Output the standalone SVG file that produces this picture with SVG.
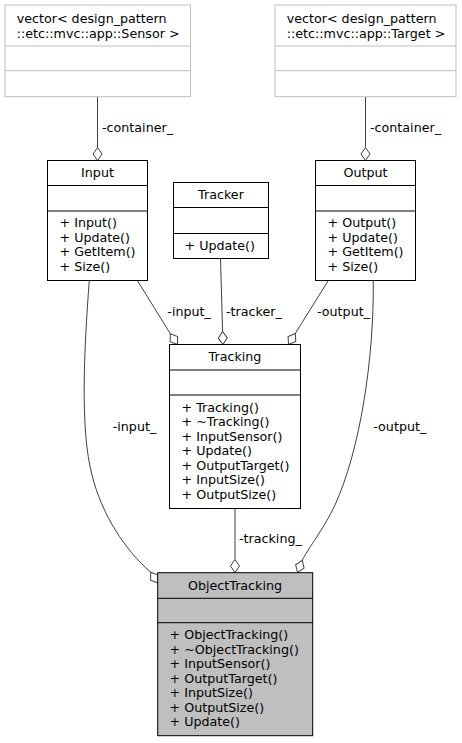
<svg xmlns="http://www.w3.org/2000/svg" xmlns:xlink="http://www.w3.org/1999/xlink" width="462" height="743" viewBox="0 0 462 743">
<style>
text{font-family:"DejaVu Sans","Liberation Sans",sans-serif;font-size:12.7px;fill:#000}
.t{text-anchor:middle}
.box{fill:#fff;stroke:#000;stroke-width:1}
.ext{fill:#fff;stroke:#bfbfbf;stroke-width:1}
.sep{stroke:#000;stroke-width:1}
.sepx{stroke:#bfbfbf;stroke-width:1}
.edge{fill:none;stroke:#404040;stroke-width:1}
.dia{fill:#fff;stroke:#404040;stroke-width:1}
</style>
<defs>
<polygon id="dia" class="dia" points="0,0 -4.5,-6.5 0,-13 4.5,-6.5"/>
</defs>
<rect width="462" height="743" fill="#fff"/>
<g id="connectors">
<path class="edge" d="M97.5,96.7 L97.5,147.5"/>
<use href="#dia" transform="translate(97.5,160.5)"/>
<text x="102" y="131.5">-container_</text>
<path class="edge" d="M365.5,96.7 L365.5,147.5"/>
<use href="#dia" transform="translate(365.5,160.5)"/>
<text x="370" y="131.5">-container_</text>
<path class="edge" d="M137.3,280.5 L170.3,333.7"/>
<use href="#dia" transform="translate(177.5,344.5) rotate(-33.8)"/>
<text x="167.3" y="315.5">-input_</text>
<path class="edge" d="M220.5,258.5 L222.6,331.5"/>
<use href="#dia" transform="translate(223,344.5) rotate(-2)"/>
<text x="226" y="315.5">-tracker_</text>
<path class="edge" d="M328.3,280.5 L295.3,333.4"/>
<use href="#dia" transform="translate(288.5,344.5) rotate(31.7)"/>
<text x="317" y="315.5">-output_</text>
<path class="edge" d="M89.3,280.5 C84,350 80,430 92,475 C102,515 125,550 150.7,572.2"/>
<use href="#dia" transform="translate(158,583) rotate(-34.2)"/>
<text x="112.7" y="430.5">-input_</text>
<path class="edge" d="M373.3,280.5 C374,360 360,450 335,505 C322,532 310,545 302.2,560.4"/>
<use href="#dia" transform="translate(297.5,572.5) rotate(21.4)"/>
<text x="373.3" y="430.5">-output_</text>
<path class="edge" d="M235,508.5 L235,559.5"/>
<use href="#dia" transform="translate(235,572.5)"/>
<text x="239" y="543">-tracking_</text>
</g>
<g id="vecSensor">
<rect class="ext" x="5" y="5" width="185.5" height="91.7"/>
<line class="sepx" x1="5" y1="46" x2="190.5" y2="46"/>
<line class="sepx" x1="5" y1="70.7" x2="190.5" y2="70.7"/>
<text x="16.7" y="23">vector&lt; design_pattern</text>
<text x="16.7" y="37.5">::etc::mvc::app::Sensor &gt;</text>
</g>
<g id="vecTarget">
<rect class="ext" x="275" y="5" width="181" height="91.7"/>
<line class="sepx" x1="275" y1="46" x2="456" y2="46"/>
<line class="sepx" x1="275" y1="70.7" x2="456" y2="70.7"/>
<text x="286.7" y="23">vector&lt; design_pattern</text>
<text x="286.7" y="37.5">::etc::mvc::app::Target &gt;</text>
</g>
<g id="Input">
<rect class="box" x="47.5" y="160.5" width="100" height="120"/>
<line class="sep" x1="47.5" y1="185.5" x2="147.5" y2="185.5"/>
<line class="sep" x1="47.5" y1="211" x2="147.5" y2="211"/>
<text class="t" x="97.5" y="177.3">Input</text>
<text x="59.5" y="227.3">+ Input()</text>
<text x="59.5" y="241.8">+ Update()</text>
<text x="59.5" y="256.3">+ GetItem()</text>
<text x="59.5" y="270.8">+ Size()</text>
</g>
<g id="Tracker">
<rect class="box" x="173.5" y="182.5" width="95" height="76"/>
<line class="sep" x1="173.5" y1="207.5" x2="268.5" y2="207.5"/>
<line class="sep" x1="173.5" y1="233.5" x2="268.5" y2="233.5"/>
<text class="t" x="221" y="199.3">Tracker</text>
<text x="184.5" y="249.8">+ Update()</text>
</g>
<g id="Output">
<rect class="box" x="315.5" y="160.5" width="100" height="120"/>
<line class="sep" x1="315.5" y1="185.5" x2="415.5" y2="185.5"/>
<line class="sep" x1="315.5" y1="211" x2="415.5" y2="211"/>
<text class="t" x="365.5" y="177.3">Output</text>
<text x="327.5" y="227.3">+ Output()</text>
<text x="327.5" y="241.8">+ Update()</text>
<text x="327.5" y="256.3">+ GetItem()</text>
<text x="327.5" y="270.8">+ Size()</text>
</g>
<g id="Tracking">
<rect class="box" x="169.5" y="344.5" width="131" height="164"/>
<line class="sep" x1="169.5" y1="370" x2="300.5" y2="370"/>
<line class="sep" x1="169.5" y1="395" x2="300.5" y2="395"/>
<text class="t" x="235" y="361.3">Tracking</text>
<text x="181.5" y="411.5">+ Tracking()</text>
<text x="181.5" y="426">+ ~Tracking()</text>
<text x="181.5" y="440.5">+ InputSensor()</text>
<text x="181.5" y="455">+ Update()</text>
<text x="181.5" y="469.5">+ OutputTarget()</text>
<text x="181.5" y="484">+ InputSize()</text>
<text x="181.5" y="498.5">+ OutputSize()</text>
</g>
<g id="ObjectTracking">
<rect class="box" x="157.7" y="572.7" width="155" height="163" style="fill:#bfbfbf"/>
<line class="sep" x1="157.7" y1="598.3" x2="312.7" y2="598.3"/>
<line class="sep" x1="157.7" y1="622.7" x2="312.7" y2="622.7"/>
<text class="t" x="235" y="589.5">ObjectTracking</text>
<text x="169.5" y="639.2">+ ObjectTracking()</text>
<text x="169.5" y="653.7">+ ~ObjectTracking()</text>
<text x="169.5" y="668.2">+ InputSensor()</text>
<text x="169.5" y="682.7">+ OutputTarget()</text>
<text x="169.5" y="697.2">+ InputSize()</text>
<text x="169.5" y="711.7">+ OutputSize()</text>
<text x="169.5" y="726.2">+ Update()</text>
</g>
</svg>
